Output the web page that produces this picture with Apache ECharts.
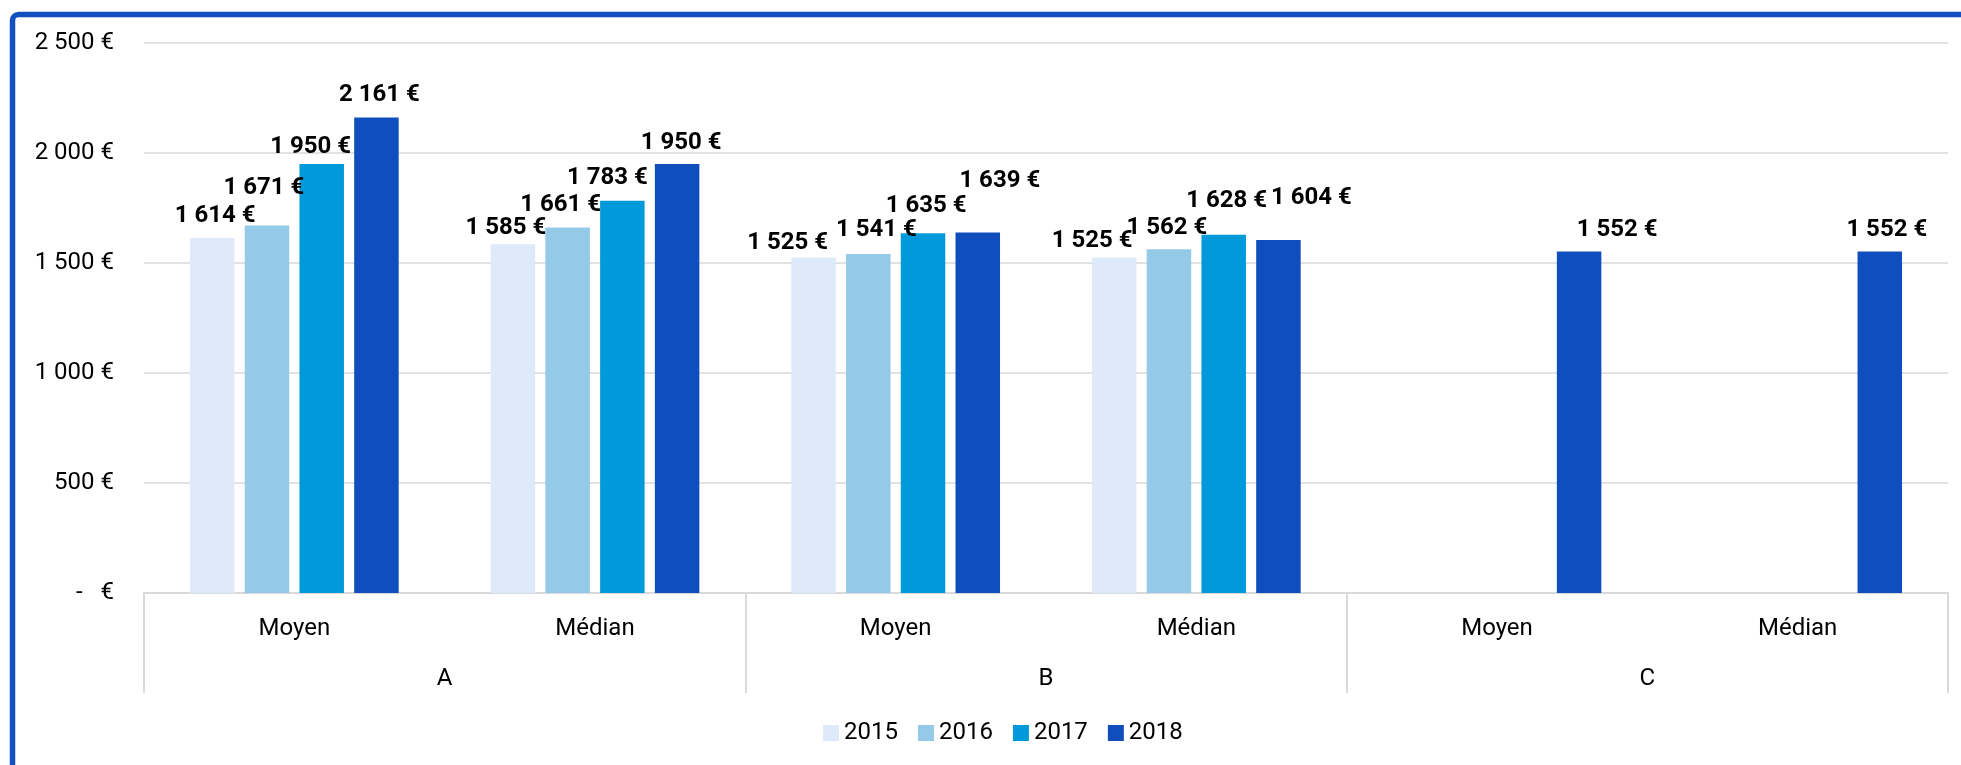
<!DOCTYPE html>
<html>
<head>
<meta charset="utf-8">
<script src="https://cdn.jsdelivr.net/npm/echarts@6/dist/echarts.min.js"></script>
<style>
html,body{margin:0;padding:0;background:#fff;}
#chart{width:1961px;height:765px;}
</style>
</head>
<body>
<div id="chart"></div>
<script>
// ---- data ----
const subCategories = ['Moyen', 'Médian', 'Moyen', 'Médian', 'Moyen', 'Médian'];
const groups = ['A', 'B', 'C'];
const years = ['2015', '2016', '2017', '2018'];
const values2015 = [1614, 1585, 1525, 1525, null, null];
const values2016 = [1671, 1661, 1541, 1562, null, null];
const values2017 = [1950, 1783, 1635, 1628, null, null];
const values2018 = [2161, 1950, 1639, 1604, 1552, 1552];
const yTickLabels = ['-   €', '500 €', '1 000 €', '1 500 €', '2 000 €', '2 500 €'];

// ---- styling (label nudges as placed in the original) ----
const colors = ['#DEEAF9', '#94C9E7', '#009ADA', '#104EBD'];
const labelNudges = [
  [[3,0],[-7,6],[-26,7],[-22,5],[0,0],[0,0]],
  [[-3,-15],[-7,-1],[8,-2],[-2,1],[0,0],[0,0]],
  [[-11,5],[-15,-1],[3,-5],[3,-12],[0,0],[0,0]],
  [[3,-1],[4,1],[22,-29],[33,-20],[38,0],[7,0]]
];

const allValues = [values2015, values2016, values2017, values2018];
const fmt = v => String(v).replace(/\B(?=(\d{3})+(?!\d))/g, ' ') + ' €';
const FONT = 'Roboto';
const FS = 24;

const chart = echarts.init(document.getElementById('chart'));
const series = years.map((y, si) => ({
  name: y,
  type: 'bar',
  xAxisIndex: 0,
  barWidth: 44.5,
  barGap: '23%',
  itemStyle: { color: colors[si] },
  label: {
    show: true,
    position: 'top',
    distance: 10,
    fontFamily: FONT,
    fontSize: FS,
    fontWeight: 'bold',
    color: '#000',
    formatter: p => fmt(p.value)
  },
  data: allValues[si].map((v, i) => ({
    value: v,
    label: { offset: labelNudges[si][i] }
  }))
}));

chart.setOption({
  animation: false,
  textStyle: { fontFamily: FONT },
  graphic: [{
    type: 'rect',
    shape: { x: 12.5, y: 14.5, width: 2100, height: 900, r: 6 },
    style: { fill: 'none', stroke: '#1151BF', lineWidth: 5.5 },
    silent: true,
    z: 100
  }],
  grid: { left: 144, right: 13, top: 43, bottom: 172, containLabel: false },
  legend: {
    data: years,
    left: 818,
    top: 716,
    icon: 'rect',
    itemWidth: 16,
    itemHeight: 16,
    itemGap: 20,
    textStyle: { fontFamily: FONT, fontSize: FS, color: '#000' }
  },
  xAxis: [
    {
      type: 'category',
      data: subCategories,
      position: 'bottom',
      axisLine: { show: true, lineStyle: { color: '#d9d9d9', width: 2 } },
      axisTick: { show: false },
      axisLabel: { margin: 24, fontFamily: FONT, fontSize: FS, color: '#000', interval: 0 },
      splitLine: { show: false }
    },
    {
      type: 'category',
      data: groups,
      position: 'bottom',
      axisLine: { show: false },
      axisTick: { show: true, length: 100, lineStyle: { color: '#d9d9d9', width: 2 } },
      axisLabel: { margin: 74, fontFamily: FONT, fontSize: FS, color: '#000', interval: 0 },
      splitLine: { show: false }
    }
  ],
  yAxis: {
    type: 'value',
    min: 0,
    max: 2500,
    interval: 500,
    axisLine: { show: false },
    axisTick: { show: false },
    axisLabel: {
      margin: 30,
      fontFamily: FONT,
      fontSize: FS,
      color: '#000',
      formatter: v => yTickLabels[Math.round(v / 500)]
    },
    splitLine: { lineStyle: { color: '#d9d9d9', width: 1.5 } }
  },
  series: series
});
</script>
</body>
</html>
